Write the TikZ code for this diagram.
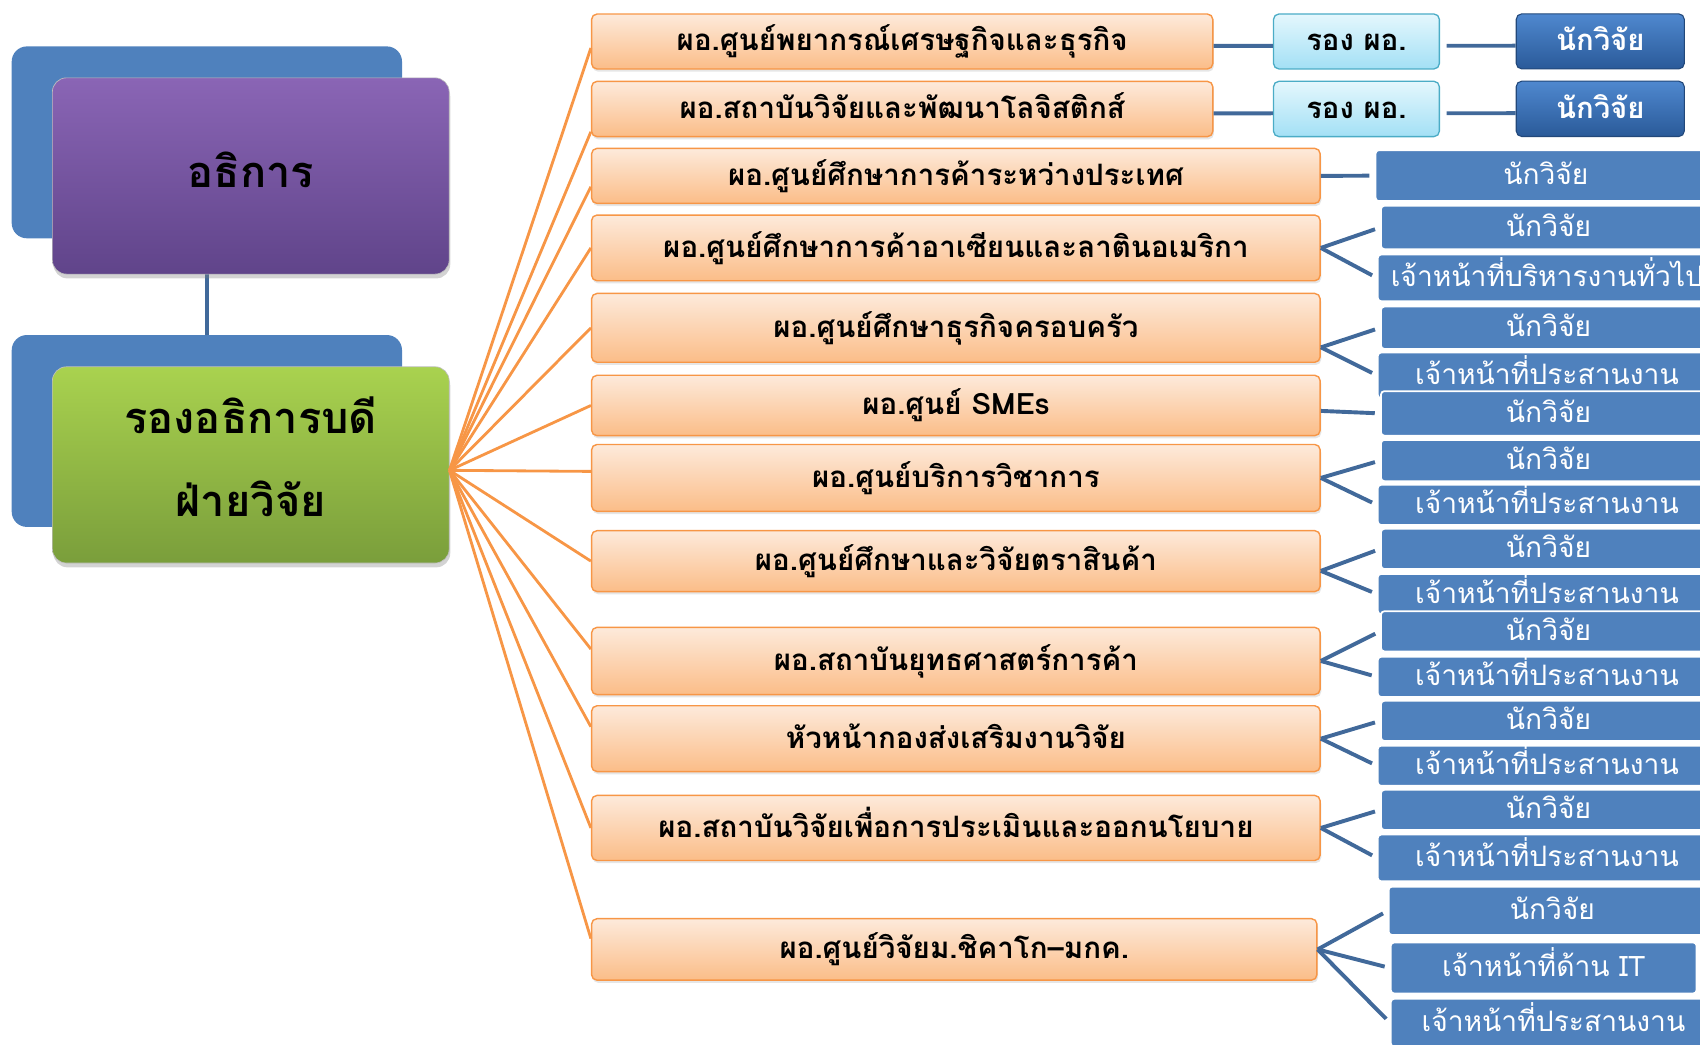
\documentclass[tikz,border=0pt]{standalone}
\usepackage{fontspec}
\setmainfont{Loma}[Script=Thai]
\usepackage{tikz}
\usetikzlibrary{positioning, shadows}

\definecolor{offblue}{HTML}{4F81BD}
\definecolor{linkblue}{HTML}{41699A}
\definecolor{orline}{HTML}{F79646}
\definecolor{ortop}{HTML}{FDEADB}
\definecolor{orbot}{HTML}{FBBD88}
\definecolor{purtop}{HTML}{8A65B5}
\definecolor{purbot}{HTML}{60448A}
\definecolor{grntop}{HTML}{A9D24F}
\definecolor{grnbot}{HTML}{7A9E3B}
\definecolor{cyantop}{HTML}{E4F7FD}
\definecolor{cyanbot}{HTML}{A3E0F5}
\definecolor{cyanline}{HTML}{4BACC6}
\definecolor{navytop}{HTML}{4F88CF}
\definecolor{navybot}{HTML}{2A5A99}

\begin{document}
\begin{tikzpicture}[x=1pt, y=-1pt,
  backbox/.style={fill=offblue, rounded corners=14pt, anchor=north west, inner sep=0pt},
  headbox/.style={rounded corners=13pt, anchor=north west, inner sep=0pt, draw=black!25, line width=0.6pt,
    drop shadow={opacity=0.35, shadow xshift=1pt, shadow yshift=-4pt},
    font=\bfseries\fontsize{40}{77}\selectfont, text depth=0pt},
  dirbox/.style={draw=orline, line width=1.3pt, rounded corners=5pt, top color=ortop, bottom color=orbot,
    anchor=north west, inner sep=0pt, drop shadow={opacity=0.2, shadow xshift=1pt, shadow yshift=-2.5pt},
    font=\bfseries\fontsize{27.2}{30}\selectfont, text height=17.4pt, text depth=0pt},
  subbox/.style={draw=cyanline, line width=1.2pt, rounded corners=5pt, top color=cyantop, bottom color=cyanbot,
    anchor=north west, inner sep=0pt, font=\bfseries\fontsize{27}{30}\selectfont, text height=17.3pt, text depth=0pt},
  resbox/.style={draw=navybot!80!black, line width=1pt, rounded corners=5pt, top color=navytop, bottom color=navybot,
    anchor=north west, inner sep=0pt, text=white, font=\bfseries\fontsize{27}{30}\selectfont,
    text height=17.3pt, text depth=0pt},
  staffbox/.style={fill=offblue, draw=white, line width=1.6pt, rounded corners=3pt, anchor=north west,
    inner sep=0pt, text=white, font=\fontsize{26}{30}\selectfont, text height=16.6pt, text depth=0pt},
  fanline/.style={orline, line width=2.6pt},
  tieline/.style={linkblue, line width=3.6pt}]

  \useasboundingbox (0,0) rectangle (1568,963);

  %% Left column: back plates, dean and vice-president
  \node[backbox, minimum width=360pt, minimum height=177pt] (backA) at (10.6,42.6) {};
  \node[backbox, minimum width=360pt, minimum height=177pt] (backB) at (10.6,308.8) {};
  \draw[tieline] (backA.south) -- (backB.north);
  \node[headbox, top color=purtop, bottom color=purbot, minimum width=366pt, minimum height=181pt,
    text height=21pt] (dean) at (48,71.5) {อธิการ};
  \node[headbox, top color=grntop, bottom color=grnbot, minimum width=366pt, minimum height=181pt,
    text height=96pt] (vp) at (48,338)
    {\begin{tabular}[b]{@{}c@{}}รองอธิการบดี\\ฝ่ายวิจัย\end{tabular}};

  %% Top two rows with deputy and researcher
  \foreach \n/\yy/\hh/\txt in {
    1/12.3/50.7/{ผอ.ศูนย์พยากรณ์เศรษฐกิจและธุรกิจ},
    2/74.4/51/{ผอ.สถาบันวิจัยและพัฒนาโลจิสติกส์}
  }{
    \node[dirbox, minimum width=573pt, minimum height=\hh pt] (d\n) at (545,\yy) {\txt};
    \node[subbox, minimum width=153pt, minimum height=\hh pt] (rong\n) at (1174,\yy) {รอง ผอ.};
    \node[resbox, minimum width=155pt, minimum height=\hh pt] (nak\n) at (1398,\yy) {นักวิจัย};
    \draw[tieline] ([yshift=-4pt]d\n.east) -- ([yshift=-4pt]rong\n.west);
    \draw[tieline, shorten <=6pt] ([yshift=-4pt]rong\n.east) -- ([yshift=-4pt]nak\n.west);
  }

  %% Remaining directors
  \foreach \n/\yy/\hh/\ww/\txt in {
    3/136.2/50.8/672/{ผอ.ศูนย์ศึกษาการค้าระหว่างประเทศ},
    4/197.7/60.6/672/{ผอ.ศูนย์ศึกษาการค้าอาเซียนและลาตินอเมริกา},
    5/270/63.5/672/{ผอ.ศูนย์ศึกษาธุรกิจครอบครัว},
    6/345.5/55.7/672/{ผอ.ศูนย์ SMEs},
    7/409.3/61.7/672/{ผอ.ศูนย์บริการวิชาการ},
    8/488.8/56.2/672/{ผอ.ศูนย์ศึกษาและวิจัยตราสินค้า},
    9/578/62/672/{ผอ.สถาบันยุทธศาสตร์การค้า},
    10/650.3/60.7/672/{หัวหน้ากองส่งเสริมงานวิจัย},
    11/733/60/672/{ผอ.สถาบันวิจัยเพื่อการประเมินและออกนโยบาย},
    12/846.7/56.7/669/{ผอ.ศูนย์วิจัยม.ชิคาโก–มกค.}
  }{
    \node[dirbox, minimum width=\ww pt, minimum height=\hh pt] (d\n) at (545,\yy) {\txt};
  }

  %% Fan from vice-president to every director
  \coordinate (fan) at ([yshift=-5pt]vp.east);
  \foreach \n/\dy in {1/-6, 2/-21, 3/-10, 4/0, 5/0, 6/0, 7/6, 8/0, 9/11, 10/11, 11/0, 12/10}
    \draw[fanline] (fan) -- ([yshift=\dy pt]d\n.west);

  %% Staff column on the right
  \foreach \nm/\xx/\yy/\ww/\hh/\txt in {
    r3a/1268/137.7/314/47/นักวิจัย,
    r4a/1273/189/309/40/นักวิจัย,
    r4b/1270/234/312/43/เจ้าหน้าที่บริหารงานทั่วไป,
    r5a/1273/282/309/39/นักวิจัย,
    r5b/1270/324.4/312/42/เจ้าหน้าที่ประสานงาน,
    r6a/1273/360/309/41/นักวิจัย,
    r7a/1273/405/309/38/นักวิจัย,
    r7b/1270/446.4/312/37/เจ้าหน้าที่ประสานงาน,
    r8a/1273/487/309/37/นักวิจัย,
    r8b/1270/528.6/312/37/เจ้าหน้าที่ประสานงาน,
    r9a/1273/563/309/37/นักวิจัย,
    r9b/1270/605/312/37/เจ้าหน้าที่ประสานงาน,
    r10a/1273/645.6/309/37/นักวิจัย,
    r10b/1270/687/312/37/เจ้าหน้าที่ประสานงาน,
    r11a/1273/727.7/309/37/นักวิจัย,
    r11b/1270/769/312/43/เจ้าหน้าที่ประสานงาน,
    r12a/1280/817/302/44.5/นักวิจัย,
    r12b/1282/868.5/282/47/เจ้าหน้าที่ด้าน IT,
    r12c/1282/920.5/300/44/เจ้าหน้าที่ประสานงาน
  }{
    \node[staffbox, minimum width=\ww pt, minimum height=\hh pt] (\nm) at (\xx,\yy) {\txt};
  }

  %% Links from directors to their staff
  \foreach \n/\dy in {3/0, 4/0, 5/-18, 6/-5, 7/0, 8/-9, 9/0, 10/0, 11/0, 12/0}
    \coordinate (j\n) at ([yshift=\dy pt]d\n.east);
  \foreach \n/\c in {3/r3a, 4/r4a, 4/r4b, 5/r5a, 5/r5b, 6/r6a, 7/r7a, 7/r7b, 8/r8a, 8/r8b,
                     9/r9a, 9/r9b, 10/r10a, 10/r10b, 11/r11a, 11/r11b, 12/r12a, 12/r12b, 12/r12c}
    \draw[tieline, shorten >=5pt] (j\n) -- (\c.west);

\end{tikzpicture}
\end{document}
